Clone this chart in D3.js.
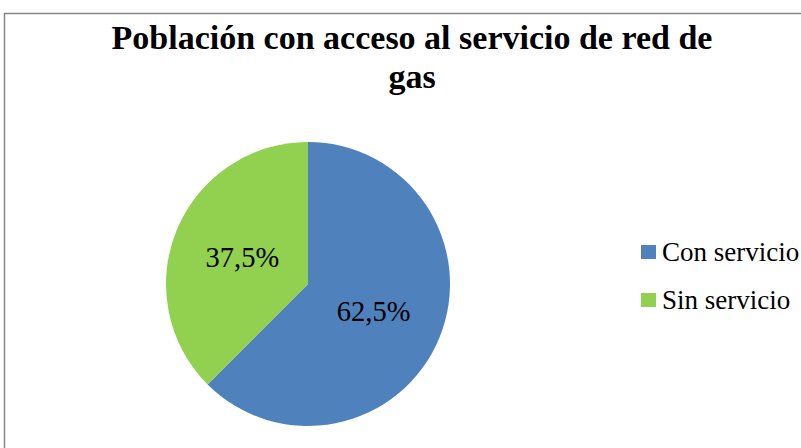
<!DOCTYPE html>
<meta charset="utf-8">
<style>
  body { margin: 0; background: #fff; }
  svg text { font-family: "Liberation Serif", "DejaVu Serif", serif; }
</style>
<body>
<div id="chart"></div>
<script src="https://d3js.org/d3.v7.min.js"></script>
<script>

var categories = ["Con servicio", "Sin servicio"];
var values = [62.5, 37.5];
var labels = ["62,5%", "37,5%"];
var colors = ["#4F81BD", "#92D050"];

var W = 801, H = 448;
var cx = 308, cy = 284, radius = 142;

var svg = d3.select("#chart")
  .append("svg")
    .attr("width", W)
    .attr("height", H);

// chart frame (runs off the right and bottom edge)
svg.append("rect")
  .attr("x", 4.5)
  .attr("y", 13.5)
  .attr("width", W + 10)
  .attr("height", H + 10)
  .attr("fill", "#fff")
  .attr("stroke", "#868686")
  .attr("stroke-width", 1.5);

// title
var title = svg.append("text")
  .attr("text-anchor", "middle")
  .attr("font-weight", "bold")
  .attr("font-size", 34)
  .attr("fill", "#000");
title.append("tspan").attr("x", 412).attr("y", 49).text("Población con acceso al servicio de red de");
title.append("tspan").attr("x", 412).attr("y", 88).text("gas");

var data = categories.map(function(c, i) {
  return {name: c, value: values[i], label: labels[i], color: colors[i]};
});

var pie = d3.pie()
  .sort(null)
  .value(function(d) { return d.value; });

var arc = d3.arc().innerRadius(0).outerRadius(radius);
var labelArc = d3.arc().innerRadius(radius * 0.5).outerRadius(radius * 0.5);

var g = svg.append("g")
  .attr("transform", "translate(" + cx + "," + cy + ")");

g.selectAll("path")
  .data(pie(data))
  .enter()
  .append("path")
    .attr("d", arc)
    .attr("fill", function(d) { return d.data.color; });

g.selectAll("text.lbl")
  .data(pie(data))
  .enter()
  .append("text")
    .attr("class", "lbl")
    .attr("transform", function(d) { return "translate(" + labelArc.centroid(d) + ")"; })
    .attr("dy", "0.35em")
    .attr("text-anchor", "middle")
    .attr("font-size", 28.5)
    .attr("fill", "#000")
    .text(function(d) { return d.data.label; });

// legend
var legend = svg.append("g")
  .attr("transform", "translate(641,245)");

var item = legend.selectAll("g")
  .data(data)
  .enter()
  .append("g")
    .attr("transform", function(d, i) { return "translate(0," + (i * 48) + ")"; });

item.append("rect")
  .attr("width", 15)
  .attr("height", 14)
  .attr("fill", function(d) { return d.color; });

item.append("text")
  .attr("x", 21)
  .attr("y", 16)
  .attr("font-size", 27)
  .attr("fill", "#000")
  .text(function(d) { return d.name; });

</script>
</body>
